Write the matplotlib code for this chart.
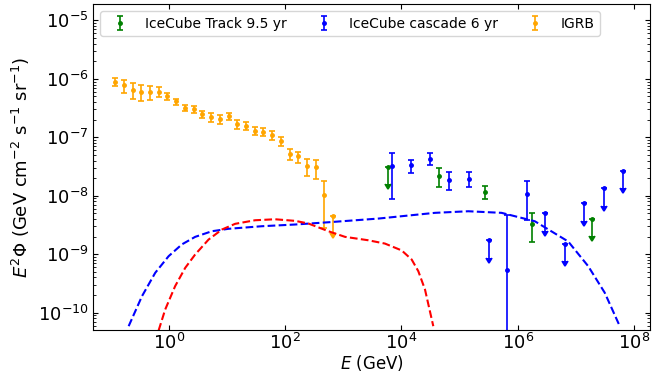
import numpy as np
import matplotlib
matplotlib.use("Agg")
import matplotlib.pyplot as plt
from matplotlib.ticker import NullLocator

# IGRB (Fermi-LAT)
igrb_E = [0.119, 0.168, 0.237, 0.335, 0.473, 0.668, 0.944, 1.33, 1.88, 2.66,
          3.76, 5.31, 7.50, 10.6, 15.0, 21.1, 29.9, 42.2, 59.6, 84.2,
          119, 168, 237, 335, 473, 668]
igrb_F = [8.95e-7, 7.7e-7, 6.5e-7, 5.9e-7, 5.9e-7, 6.0e-7, 5.0e-7, 4.1e-7, 3.2e-7, 3.0e-7,
          2.5e-7, 2.2e-7, 2.07e-7, 2.3e-7, 1.7e-7, 1.58e-7, 1.3e-7, 1.25e-7, 1.1e-7, 8.7e-8,
          5.2e-8, 4.7e-8, 3.2e-8, 3.07e-8, 1.02e-8, 4.5e-9]
igrb_err = [1.5e-7, 2.0e-7, 1.9e-7, 1.8e-7, 1.6e-7, 1.2e-7, 6.2e-8, 5.1e-8, 4.0e-8, 3.7e-8,
            3.7e-8, 3.7e-8, 3.5e-8, 3.4e-8, 2.9e-8, 2.7e-8, 2.2e-8, 2.1e-8, 1.9e-8, 1.5e-8,
            1.1e-8, 1.0e-8, 1.0e-8, 1.1e-8, 7.4e-9, 2.2e-9]
igrb_ul = [False] * 25 + [True]

# IceCube cascade 6 yr
casc_E = [6.8e3, 1.45e4, 3.1e4, 6.7e4, 1.44e5, 3.15e5, 6.6e5, 1.42e6, 3.0e6,
          6.6e6, 1.39e7, 3.0e7, 6.5e7]
casc_F = [3.19e-8, 3.32e-8, 4.32e-8, 1.89e-8, 1.97e-8, 1.73e-9, 5.4e-10, 1.09e-8, 4.97e-9,
          1.51e-9, 7.57e-9, 1.36e-8, 2.67e-8]
casc_err = [2.3e-8, 8.5e-9, 1.0e-8, 6.6e-9, 5.7e-9, 8.6e-10, 4.1e-9, 7.0e-9, 2.5e-9,
            7.5e-10, 3.8e-9, 6.8e-9, 1.33e-8]
casc_ul = [False, False, False, False, False, True, False, False, True,
           True, True, True, True]

# IceCube Track 9.5 yr
track_E = [5.96e3, 4.4e4, 2.7e5, 1.75e6, 1.88e7]
track_F = [3.07e-8, 2.19e-8, 1.18e-8, 3.31e-9, 4.07e-9]
track_err = [1.45e-8, 7.8e-9, 3.0e-9, 1.72e-9, 2.0e-9]
track_ul = [True, False, False, False, True]

# model curves
blue_E = [0.203, 0.344, 0.582, 0.989, 1.67, 2.83, 5.48, 10.6, 39.6, 148,
          555, 4.01e3, 3.77e4, 1.41e5, 5.27e5, 1.97e6, 7.38e6, 1.63e7, 3.14e7, 5.69e7]
blue_F = [5.87e-11, 1.91e-10, 4.81e-10, 9.25e-10, 1.47e-9, 1.98e-9, 2.47e-9, 2.72e-9, 3.01e-9, 3.22e-9,
          3.52e-9, 4.07e-9, 5.1e-9, 5.43e-9, 5.1e-9, 3.66e-9, 1.65e-9, 6.24e-10, 2.19e-10, 5.87e-11]

red_E = [0.665, 0.863, 1.28, 1.91, 2.83, 4.81, 8.15, 13.8, 30.4, 67.0,
         148, 251, 555, 1.07e3, 2.70e3, 5.2e3, 1.01e4, 1.5e4, 1.95e4, 2.54e4, 3.53e4]
red_F = [4.95e-11, 1.13e-10, 2.84e-10, 5.85e-10, 9.89e-10, 1.78e-9, 2.64e-9, 3.31e-9, 3.81e-9, 3.96e-9,
         3.72e-9, 3.35e-9, 2.47e-9, 1.98e-9, 1.73e-9, 1.52e-9, 1.16e-9, 8.1e-10, 5.12e-10, 2.49e-10, 5.87e-11]

fig = plt.figure(figsize=(6.71, 3.74), dpi=100)
ax = fig.add_axes([0.139, 0.117, 0.830, 0.872])

eb = dict(fmt='.', markersize=5, capsize=2.5, elinewidth=1.2, capthick=1.2)
ax.errorbar(track_E, track_F, yerr=track_err, uplims=track_ul, color='green',
            label='IceCube Track 9.5 yr', **eb)
ax.errorbar(casc_E, casc_F, yerr=casc_err, uplims=casc_ul, color='blue',
            label='IceCube cascade 6 yr', **eb)
ax.errorbar(igrb_E, igrb_F, yerr=igrb_err, uplims=igrb_ul, color='orange',
            label='IGRB', **eb)

ax.plot(blue_E, blue_F, 'b--', lw=1.5)
ax.plot(red_E, red_F, 'r--', lw=1.5)

ax.set_xscale('log')
ax.set_yscale('log')
ax.set_xlim(0.05, 1.9e8)
ax.set_ylim(5e-11, 1.9e-5)
ax.set_xticks([1e0, 1e2, 1e4, 1e6, 1e8])
ax.xaxis.set_minor_locator(NullLocator())
ax.tick_params(which='both', direction='in', top=True, right=True, labelsize=13)
ax.tick_params(axis='x', pad=2)

ax.set_xlabel(r'$E$ (GeV)', fontsize=12, labelpad=0)
ax.set_ylabel(r'$E^2\Phi$ (GeV cm$^{-2}$ s$^{-1}$ sr$^{-1}$)', fontsize=13)
ax.legend(loc='upper left', ncol=3, fontsize=10, columnspacing=1.7)

fig.savefig('out.png', dpi=100)
